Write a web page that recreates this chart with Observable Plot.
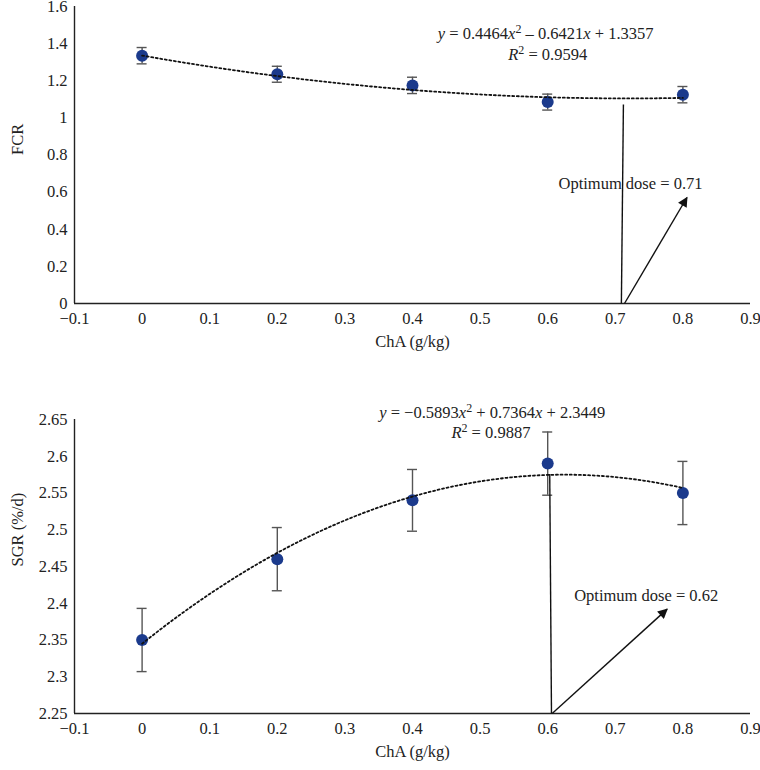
<!DOCTYPE html>
<html>
<head>
<meta charset="utf-8">
<script src="https://cdn.jsdelivr.net/npm/d3@7"></script>
<script src="https://cdn.jsdelivr.net/npm/@observablehq/plot@0.6"></script>
<style>
  html, body { margin: 0; padding: 0; background: #fff; }
  #root { width: 760px; height: 770px; overflow: hidden; }
  #root svg { display: block; }
</style>
</head>
<body>
<div id="root"></div>
<script>
// ---- data ----
const doses = [0, 0.2, 0.4, 0.6, 0.8];
const fcrMean = [1.335, 1.235, 1.175, 1.085, 1.125];
const fcrErr = [0.044, 0.043, 0.044, 0.043, 0.044];
const sgrMean = [2.35, 2.46, 2.54, 2.59, 2.55];
const sgrErr = [0.043, 0.043, 0.042, 0.043, 0.043];
const fcrCoef = [0.4464, -0.6421, 1.3357];
const sgrCoef = [-0.5893, 0.7364, 2.3449];
const xTicks = [-0.1, 0, 0.1, 0.2, 0.3, 0.4, 0.5, 0.6, 0.7, 0.8, 0.9];
const fcrTicks = [0, 0.2, 0.4, 0.6, 0.8, 1, 1.2, 1.4, 1.6];
const sgrTicks = [2.25, 2.3, 2.35, 2.4, 2.45, 2.5, 2.55, 2.6, 2.65];
const fcrEquation = ["y = 0.4464x² – 0.6421x + 1.3357", "R² = 0.9594"];
const sgrEquation = ["y = −0.5893x² + 0.7364x + 2.3449", "R² = 0.9887"];
const fcrOptText = "Optimum dose = 0.71";
const sgrOptText = "Optimum dose = 0.62";
// annotation anchors (data units)
const fcrEqPos = [[0.597, 1.452], [0.600, 1.340]];
const sgrEqPos = [[0.518, 2.659], [0.516, 2.632]];
const fcrOptLine = [{x1: 0.709, y1: 0, x2: 0.712, y2: 1.072}];
const fcrArrow = [{x1: 0.7136, y1: 0, x2: 0.806, y2: 0.571}];
const fcrOptPos = [0.7225, 0.646];
const sgrOptLine = [{x1: 0.6056, y1: 2.25, x2: 0.603, y2: 2.576}];
const sgrArrow = [{x1: 0.6066, y1: 2.25, x2: 0.7767, y2: 2.392}];
const sgrOptPos = [0.7457, 2.4105];

const FONT = "'Liberation Serif', 'Times New Roman', Times, serif";
const FS = 16.5;
const DOT = "#1b3a8c";

const fmt = d => (d < 0 ? "\u2212" : "") + String(+Math.abs(d).toFixed(4));

function filledArrow(color) {
  const m = d3.create("svg:marker")
    .attr("viewBox", "0 0 10 10")
    .attr("refX", 9).attr("refY", 5)
    .attr("markerUnits", "userSpaceOnUse")
    .attr("markerWidth", 11).attr("markerHeight", 10)
    .attr("orient", "auto");
  m.append("path").attr("d", "M0,0L10,5L0,10Z").attr("fill", color).attr("stroke", "none");
  return m.node();
}

function makeChart({height, marginTop, marginBottom, mean, err, coef, yDomain, yTicks, yLabel,
                    eq, eqPos, optLine, arrow, optText, optPos}) {
  const pts = doses.map((x, i) => ({x, y: mean[i], e: err[i]}));
  const curve = d3.range(0, 81).map(i => {
    const x = i / 100;
    return {x, y: coef[0] * x * x + coef[1] * x + coef[2]};
  });
  const eqData = eq.map((t, i) => ({t, x: eqPos[i][0], y: eqPos[i][1]}));
  return Plot.plot({
    width: 760,
    height,
    marginLeft: 74,
    marginRight: 10,
    marginTop,
    marginBottom,
    style: {fontFamily: FONT, fontSize: FS + "px", color: "#222", background: "#fff"},
    x: {domain: [-0.1, 0.9]},
    y: {domain: yDomain},
    marks: [
      Plot.axisX({ticks: xTicks, tickFormat: fmt, tickSize: 0, tickPadding: 9, label: null, fontSize: FS, fill: "#222"}),
      Plot.axisY({ticks: yTicks, tickFormat: fmt, tickSize: 0, tickPadding: 7, label: null, fontSize: FS, fill: "#222"}),
      Plot.ruleX([-0.1], {stroke: "#222", strokeWidth: 1.4}),
      Plot.ruleY([yDomain[0]], {stroke: "#222", strokeWidth: 1.4}),
      Plot.text([yLabel], {frameAnchor: "left", dx: -57, rotate: -90, fontSize: FS, fill: "#222"}),
      Plot.text(["ChA (g/kg)"], {frameAnchor: "bottom", dy: 43, fontSize: FS, fill: "#222"}),
      // error bars
      Plot.ruleX(pts, {x: "x", y1: d => d.y - d.e, y2: d => d.y + d.e, stroke: "#555", strokeWidth: 1.4}),
      Plot.ruleY(pts, {x1: "x", x2: "x", y: d => d.y + d.e, insetLeft: -5, insetRight: -5, stroke: "#555", strokeWidth: 1.4}),
      Plot.ruleY(pts, {x1: "x", x2: "x", y: d => d.y - d.e, insetLeft: -5, insetRight: -5, stroke: "#555", strokeWidth: 1.4}),
      Plot.dot(pts, {x: "x", y: "y", r: 6, fill: DOT}),
      Plot.line(curve, {x: "x", y: "y", stroke: "#111", strokeWidth: 1.8, strokeDasharray: "2 2.6"}),
      // annotations
      Plot.text(eqData, {x: "x", y: "y", text: "t", fontSize: FS, fill: "#222"}),
      Plot.text([optText], {x: optPos[0], y: optPos[1], fontSize: FS, fill: "#222"}),
      Plot.link(optLine, {x1: "x1", y1: "y1", x2: "x2", y2: "y2", stroke: "#111", strokeWidth: 1.4}),
      Plot.link(arrow, {x1: "x1", y1: "y1", x2: "x2", y2: "y2", stroke: "#111", strokeWidth: 1.4, markerEnd: filledArrow})
    ]
  });
}

function richify(svg) {
  d3.select(svg).selectAll("text").each(function () {
    const s = this.textContent;
    if (!/^(y =|R²)/.test(s)) return;
    const el = d3.select(this);
    el.text(null);
    let buf = "";
    let pendingDy = 0;
    const flush = () => {
      if (!buf) return;
      const t = el.append("tspan").text(buf);
      if (pendingDy) { t.attr("dy", pendingDy); pendingDy = 0; }
      buf = "";
    };
    for (const ch of s) {
      if (ch === "x" || ch === "y" || ch === "R") {
        flush();
        const t = el.append("tspan").attr("font-style", "italic").text(ch);
        if (pendingDy) { t.attr("dy", pendingDy); pendingDy = 0; }
      } else if (ch === "²") {
        flush();
        el.append("tspan").attr("dy", -6.5).attr("font-size", 12).text("2");
        pendingDy = 6.5;
      } else {
        buf += ch;
      }
    }
    flush();
  });
}

const chartTop = makeChart({
  height: 362, marginTop: 6, marginBottom: 59,
  mean: fcrMean, err: fcrErr, coef: fcrCoef, yDomain: [0, 1.6], yTicks: fcrTicks, yLabel: "FCR",
  eq: fcrEquation, eqPos: fcrEqPos, optLine: fcrOptLine, arrow: fcrArrow, optText: fcrOptText, optPos: fcrOptPos
});
const chartBottom = makeChart({
  height: 408, marginTop: 57, marginBottom: 57,
  mean: sgrMean, err: sgrErr, coef: sgrCoef, yDomain: [2.25, 2.65], yTicks: sgrTicks, yLabel: "SGR (%/d)",
  eq: sgrEquation, eqPos: sgrEqPos, optLine: sgrOptLine, arrow: sgrArrow, optText: sgrOptText, optPos: sgrOptPos
});
richify(chartTop);
richify(chartBottom);
const root = document.getElementById("root");
root.appendChild(chartTop);
root.appendChild(chartBottom);
</script>
</body>
</html>
